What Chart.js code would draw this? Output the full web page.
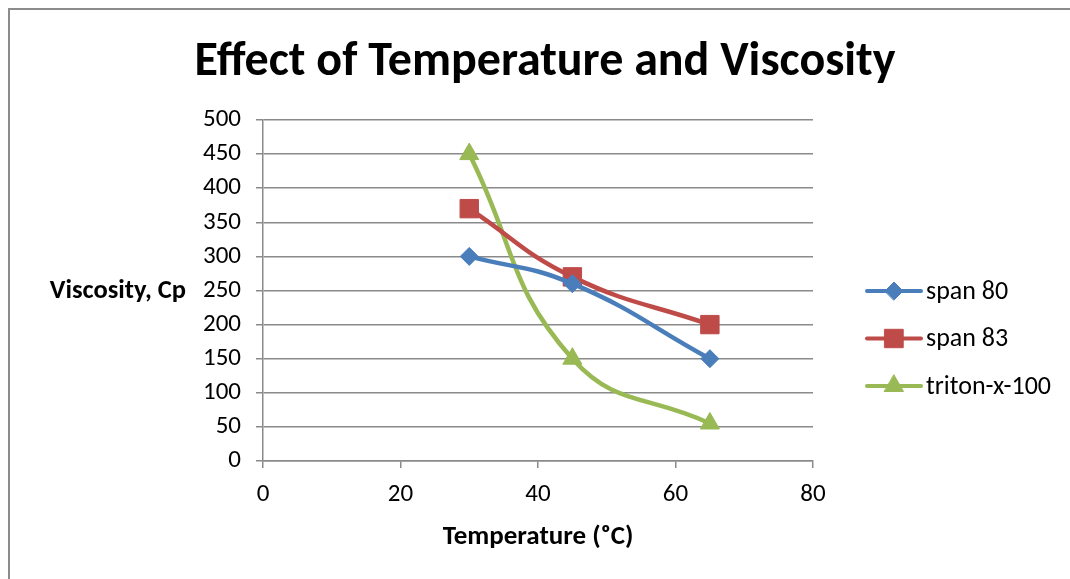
<!DOCTYPE html>
<html>
<head>
<meta charset="utf-8">
<script src="https://cdn.jsdelivr.net/npm/chart.js@4.4.1/dist/chart.umd.min.js"></script>
<style>
  html, body { margin: 0; padding: 0; background: #ffffff; }
  #wrap { width: 1070px; height: 579px; position: relative; }
</style>
</head>
<body>
<div id="wrap"><canvas id="viscChart" width="1070" height="579"></canvas></div>
<script>
// data
const temperatures = [30, 45, 65];
const span80 = [300, 260, 150];
const span83 = [370, 270, 200];
const triton = [450, 150, 55];

const seriesNames = ["span 80", "span 83", "triton-x-100"];
const xTicks = [0, 20, 40, 60, 80];
const yTicks = [0, 50, 100, 150, 200, 250, 300, 350, 400, 450, 500];

const FONT = "Carlito, Calibri, Lato, 'Liberation Sans', sans-serif";
const GRID = "#8a8a8a";

function toPoints(values) {
    return values.map((v, i) => ({ x: temperatures[i], y: v }));
}

// outer frame like the Excel chart area
const framePlugin = {
    id: "frame",
    beforeDraw(chart) {
        const ctx = chart.ctx;
        ctx.save();
        ctx.fillStyle = "#ffffff";
        ctx.fillRect(0, 0, chart.width, chart.height);
        ctx.strokeStyle = "#8c8c8c";
        ctx.lineWidth = 2;
        ctx.strokeRect(9, 9, chart.width + 20, chart.height + 20);
        ctx.restore();
    }
};

// chart title and horizontal y axis title
// (drawn here so the title is not squeezed by the layout padding)
const titlesPlugin = {
    id: "titles",
    afterDraw(chart) {
        const ctx = chart.ctx;
        const area = chart.chartArea;
        ctx.save();
        ctx.fillStyle = "#000";
        ctx.textBaseline = "middle";

        ctx.font = "bold 48px " + FONT;
        ctx.textAlign = "center";
        ctx.fillText("Effect of Temperature and Viscosity", 545, 63);

        ctx.font = "bold 26.5px " + FONT;
        ctx.textAlign = "right";
        ctx.fillText("Viscosity, Cp", 186, (area.top + area.bottom) / 2 + 1);
        ctx.restore();
    }
};

// legend with line + marker samples
const legendPlugin = {
    id: "lineLegend",
    afterDraw(chart) {
        const ctx = chart.ctx;
        ctx.save();
        chart.data.datasets.forEach((ds, i) => {
            const y = 291 + i * 47.5;
            ctx.strokeStyle = ds.borderColor;
            ctx.lineWidth = 4;
            ctx.lineCap = "round";
            ctx.beginPath();
            ctx.moveTo(867, y);
            ctx.lineTo(921, y);
            ctx.stroke();
            ctx.fillStyle = ds.backgroundColor;
            ctx.strokeStyle = ds.borderColor;
            ctx.lineWidth = 1;
            Chart.helpers.drawPoint(ctx, {
                pointStyle: ds.pointStyle,
                rotation: 0,
                radius: ds.pointRadius,
                borderWidth: 1
            }, 894, y);
            ctx.fillStyle = "#000";
            ctx.font = "26px " + FONT;
            ctx.textAlign = "left";
            ctx.textBaseline = "middle";
            ctx.fillText(ds.label, 926, y + 1);
        });
        ctx.restore();
    }
};

const ctx = document.getElementById("viscChart").getContext("2d");

new Chart(ctx, {
    type: "line",
    data: {
        datasets: [
            {
                label: seriesNames[0],
                data: toPoints(span80),
                borderColor: "#4a7ebb",
                backgroundColor: "#4a7ebb",
                pointStyle: "rectRot",
                pointRadius: 9
            },
            {
                label: seriesNames[1],
                data: toPoints(span83),
                borderColor: "#be4b48",
                backgroundColor: "#be4b48",
                pointStyle: "rect",
                pointRadius: 13
            },
            {
                label: seriesNames[2],
                data: toPoints(triton),
                borderColor: "#98b954",
                backgroundColor: "#98b954",
                pointStyle: "triangle",
                pointRadius: 11
            }
        ].map(ds => Object.assign(ds, {
            borderWidth: 4.5,
            tension: 0.45,
            fill: false,
            pointBorderWidth: 1,
            pointHoverRadius: ds.pointRadius
        }))
    },
    options: {
        responsive: false,
        animation: false,
        layout: {
            padding: { top: 120, left: 200, right: 257, bottom: 19 }
        },
        plugins: {
            legend: { display: false },
            tooltip: { enabled: false },
            title: { display: false }
        },
        scales: {
            x: {
                type: "linear",
                min: 0,
                max: 80,
                afterBuildTicks(scale) {
                    scale.ticks = xTicks.map(v => ({ value: v }));
                },
                afterFit(scale) {
                    scale.height = 99;
                },
                grid: {
                    drawOnChartArea: false,
                    drawTicks: true,
                    tickLength: 7,
                    color: GRID,
                    lineWidth: 1.5
                },
                border: { display: true, color: GRID, width: 1.5 },
                ticks: {
                    color: "#000",
                    padding: 12,
                    maxRotation: 0,
                    font: { family: FONT, size: 25 }
                },
                title: {
                    display: true,
                    text: "Temperature (\u1d52C)",
                    color: "#000",
                    font: { family: FONT, size: 27, weight: "bold" },
                    padding: { top: 0, bottom: 7 }
                }
            },
            y: {
                type: "linear",
                min: 0,
                max: 500,
                afterBuildTicks(scale) {
                    scale.ticks = yTicks.map(v => ({ value: v }));
                },
                afterFit(scale) {
                    scale.width = 63;
                },
                grid: {
                    drawOnChartArea: true,
                    drawTicks: true,
                    tickLength: 7,
                    color: GRID,
                    lineWidth: 1.5
                },
                border: { display: true, color: GRID, width: 1.5 },
                ticks: {
                    color: "#000",
                    padding: 15,
                    font: { family: FONT, size: 25 }
                }
            }
        }
    },
    plugins: [framePlugin, titlesPlugin, legendPlugin]
});
</script>
</body>
</html>
